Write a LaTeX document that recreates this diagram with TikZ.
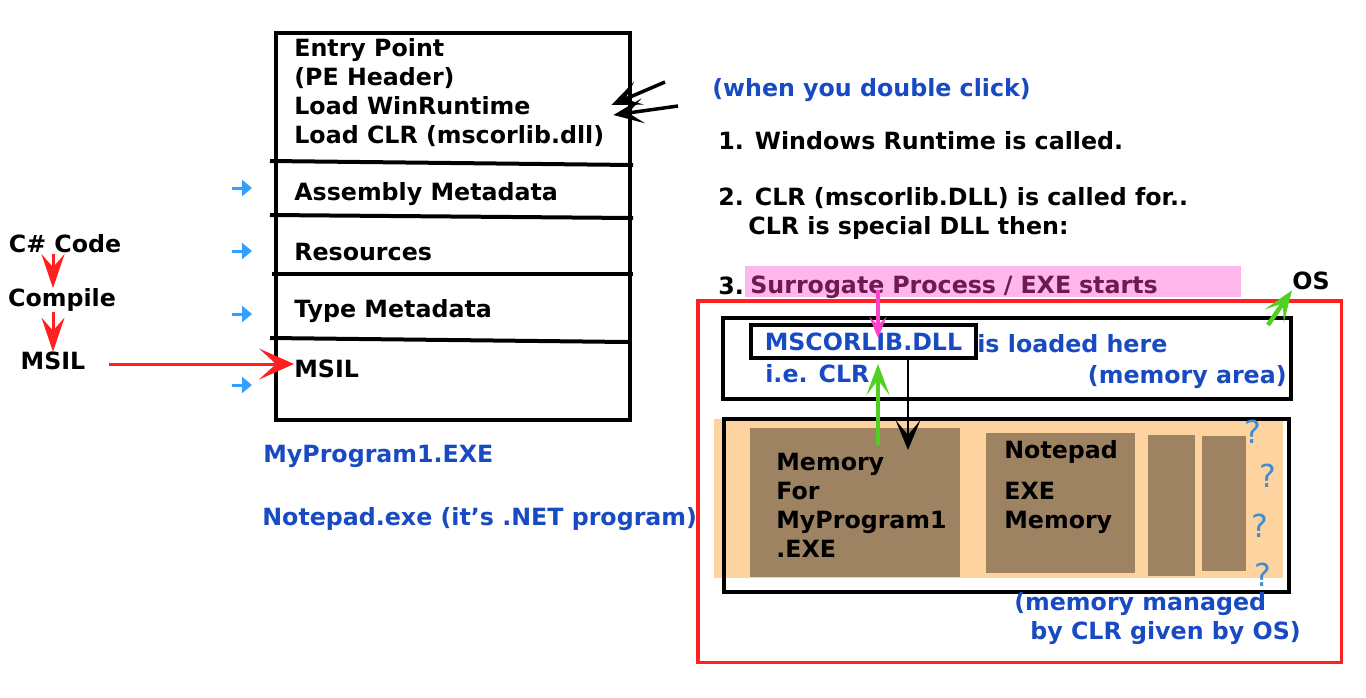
\documentclass[tikz,border=0pt]{standalone}
\usepackage{fontspec}
\setmainfont{DejaVu Sans}
\usetikzlibrary{positioning,arrows.meta}
\definecolor{txtblue}{RGB}{24,74,194}
\definecolor{arrRed}{RGB}{255,32,32}
\definecolor{arrSky}{RGB}{51,160,255}
\definecolor{hiPink}{RGB}{255,182,234}
\definecolor{surPurple}{RGB}{110,25,80}
\definecolor{arrPink}{RGB}{255,64,200}
\definecolor{arrGreen}{RGB}{80,208,32}
\definecolor{memOrange}{RGB}{253,211,160}
\definecolor{memBrown}{RGB}{158,131,99}
\definecolor{qBlue}{RGB}{64,140,210}

\begin{document}
\begin{tikzpicture}[x=0.02cm, y=-0.02cm,
  lbl/.style={font=\bfseries\fontsize{13.5}{16.5}\selectfont, inner sep=0pt, align=left, anchor=west, yshift=-0.04cm},
  blbl/.style={lbl, text=txtblue},
  frame/.style={draw, line width=0.08cm, inner sep=0pt, anchor=north west},
  mem/.style={fill=memBrown, inner sep=0pt, anchor=north west},
  quest/.style={font=\fontsize{18}{18}\selectfont, text=qBlue, inner sep=0pt},
  redarr/.style={draw=arrRed, line width=0.06cm, -{Stealth[length=0.7cm, width=0.62cm, inset=0.34cm]}},
  reddown/.style={draw=arrRed, line width=0.06cm, -{Stealth[length=0.68cm, width=0.46cm, inset=0.26cm]}},
  blkarr/.style={line width=0.07cm, -{Stealth[length=0.6cm, width=0.5cm, inset=0.3cm]}},
  grnarr/.style={draw=arrGreen, line width=0.09cm, -{Stealth[length=0.62cm, width=0.46cm, inset=0.3cm]}},
  pinkarr/.style={draw=arrPink, line width=0.07cm, -{Stealth[length=0.42cm, width=0.34cm, inset=0.16cm]}},
  tinyarr/.style={draw=arrSky, line width=0.06cm, -{Triangle[length=0.2cm, width=0.32cm]}}]
  \useasboundingbox (0,0) rectangle (1366,697);

  % the exe file
  \node[frame, minimum width=7.08cm, minimum height=7.74cm] (exe) at (274,31) {};
  \draw[line width=0.08cm] (270,161) -- (633,165);
  \draw[line width=0.08cm] (270,215) -- (633,218);
  \draw[line width=0.08cm] (272,274) -- (633,274);
  \draw[line width=0.08cm] (270,338) -- (628,342);
  \node[lbl] (entry) at (294,90.5) {Entry Point\\(PE Header)\\Load WinRuntime\\Load CLR (mscorlib.dll)};
  \node[lbl] (asm) at (294,192) {Assembly Metadata};
  \node[lbl] (res) at (294,250) {Resources};
  \node[lbl] (typ) at (294,309) {Type Metadata};
  \node[lbl] (il) at (294,367) {MSIL};
  \foreach \y in {188,251,314,385}
    \draw[tinyarr] (232,\y) -- (252,\y);
  \node[blbl] (prog) at (263,454) {MyProgram1.EXE};
  \node[blbl] (npd) at (262,517) {Notepad.exe (it's .NET program)};

  % compile chain
  \node[lbl, anchor=center] (cs) at (65,242) {C\# Code};
  \node[lbl, anchor=center] (comp) at (62,298) {Compile};
  \node[lbl, anchor=center] (il0) at (53,359) {MSIL};
  \draw[reddown] (cs.south -| il0) -- (comp.north -| il0);
  \draw[reddown] (comp.south -| il0) -- (il0.north);
  \draw[redarr] ([xshift=0.46cm, yshift=-0.06cm]il0.east) -- ([yshift=-0.06cm]il.west |- il0.east);

  % steps
  \node[blbl] (dbl) at (712,88) {(when you double click)};
  \coordinate (c1) at (665,82);
  \coordinate (c2) at (678,106);
  \draw[blkarr] (c1) -- ([xshift=0.14cm, yshift=-0.25cm]entry.east);
  \draw[blkarr] (c2) -- ([xshift=0.18cm, yshift=-0.45cm]entry.east);
  \node[lbl] (s1) at (718,139) {1. Windows Runtime is called.};
  \node[lbl] (s2) at (718,211.5) {2. CLR (mscorlib.DLL) is called for..\\\hspace*{0.6cm}CLR is special DLL then:};
  \node[lbl] (s3) at (718,284) {3.};
  \node[lbl, yshift=0.04cm, fill=hiPink, text=surPurple, minimum height=0.62cm, text height=0.46cm, text depth=0cm, text width=9.72cm, inner xsep=0.1cm] (surr) at (745,281.5) {Surrogate Process / EXE starts};

  % process memory
  \node[lbl, anchor=center] (os) at (1311,279) {OS};
  \node[frame, draw=arrRed, line width=0.07cm, minimum width=12.88cm, minimum height=7.24cm] (osbox) at (696,299) {};
  \node[frame, minimum width=11.36cm, minimum height=1.62cm] (area) at (721,316) {};
  \node[frame, font=\bfseries\fontsize{13.5}{16.5}\selectfont, text=txtblue, minimum width=4.5cm, minimum height=0.66cm] (mscl) at (749,323) {MSCORLIB.DLL};
  \node[blbl] (here) at (977,342) {is loaded here};
  \node[blbl] (ie) at (765,372) {i.e. CLR};
  \node[blbl, anchor=east] (arealbl) at (1287,375) {(memory area)};

  \fill[memOrange] (714,419) rectangle (1283,578);
  \node[frame, minimum width=11.3cm, minimum height=3.46cm] (pool) at (722,417) {};
  \node[mem, minimum width=4.2cm, minimum height=2.98cm] (m1) at (750,428) {};
  \node[mem, minimum width=2.98cm, minimum height=2.8cm] (m2) at (986,433) {};
  \node[mem, minimum width=0.94cm, minimum height=2.82cm] (m3) at (1148,435) {};
  \node[mem, minimum width=0.88cm, minimum height=2.7cm] (m4) at (1202,436) {};
  \node[lbl] (m1t) at (776,503.5) {Memory\\For\\MyProgram1\\.EXE};
  \node[lbl] (m2t) at (1004,485) {Notepad\\[0.24cm]EXE\\Memory};
  \foreach \x/\y in {1253/432,1268/476,1260/526,1263/575}
    \node[quest] (q\x) at (\x,\y) {?};
  \node[blbl] (mgd) at (1014,617) {(memory managed\\\hspace*{0.32cm}by CLR given by OS)};

  % links
  \coordinate (pinktip) at (878,338);
  \coordinate (grnfoot) at (878,445);
  \coordinate (blkend) at (908,450);
  \draw[pinkarr] ([yshift=0.14cm]surr.south -| pinktip) -- (pinktip);
  \draw[grnarr, shorten >=0.08cm] (grnfoot) -- (grnfoot |- mscl.south);
  \draw[blkarr, line width=0.05cm] (mscl.south -| blkend) -- (blkend);
  \draw[grnarr] ([xshift=-0.5cm, yshift=-0.18cm]area.north east) -- (os.south west);
\end{tikzpicture}
\end{document}
